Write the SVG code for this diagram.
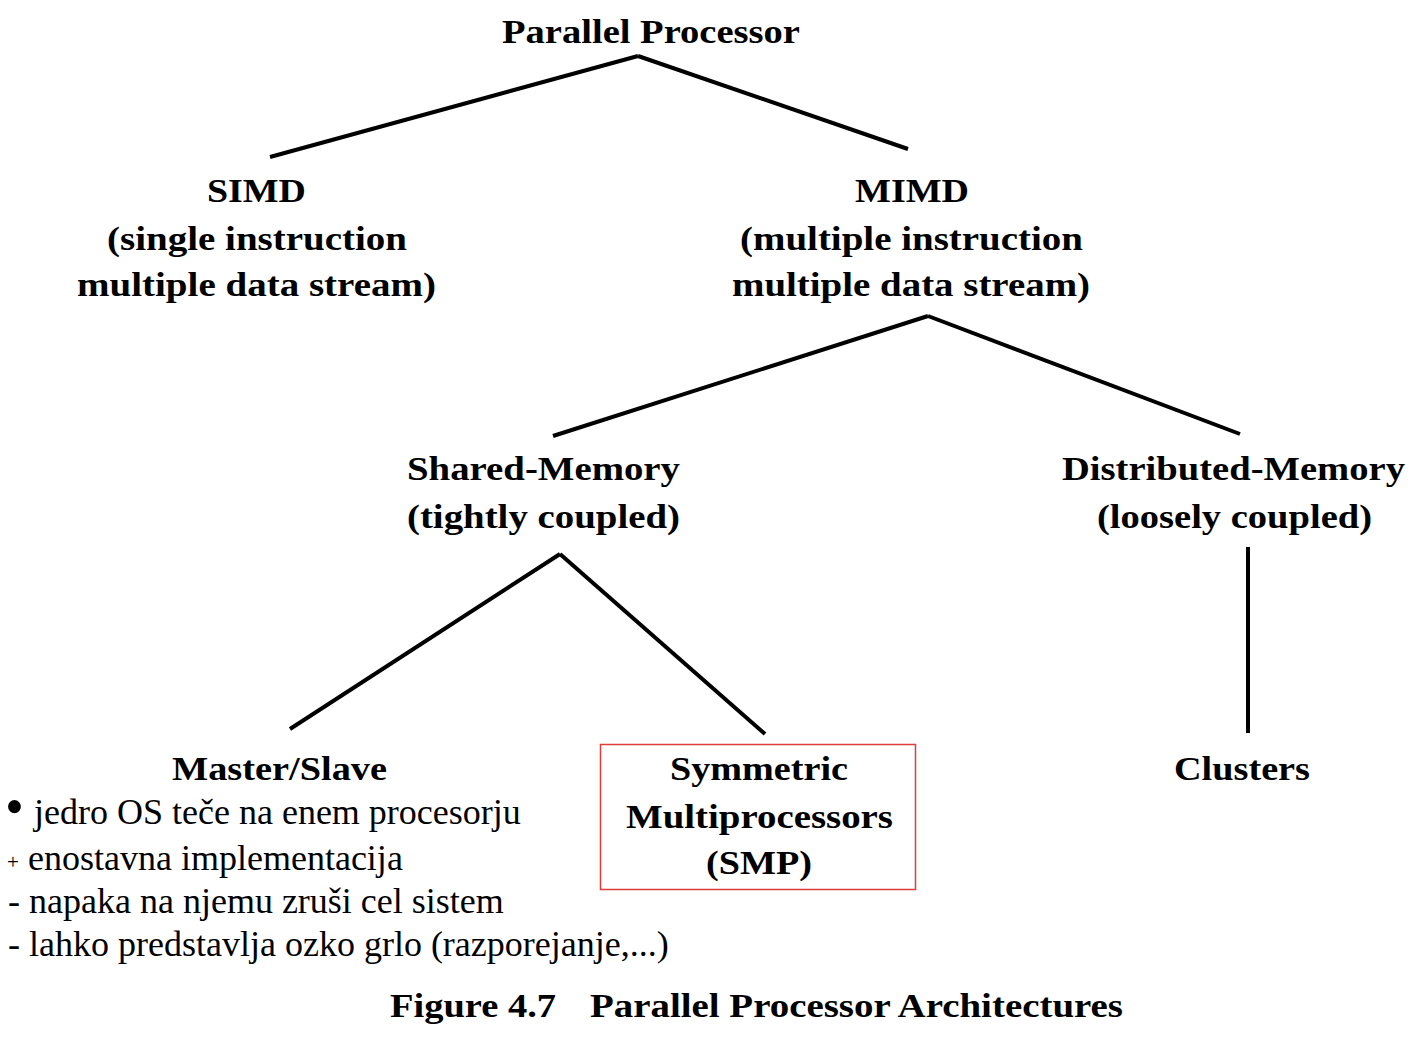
<svg xmlns="http://www.w3.org/2000/svg" width="1420" height="1060" viewBox="0 0 1420 1060">
<style>
.b{font-family:"Liberation Serif","Times New Roman",serif;font-weight:bold;font-size:34px;fill:#000}
.r{font-family:"Liberation Serif","Times New Roman",serif;font-size:36px;fill:#000}
.e{stroke:#000;stroke-width:4;fill:none;stroke-linecap:butt}
</style>
<rect width="1420" height="1060" fill="#fff"/>
<g id="connectors">
<line class="e" x1="270" y1="157" x2="638" y2="56"/>
<line class="e" x1="638" y1="56" x2="908" y2="149"/>
<line class="e" x1="553" y1="436" x2="928" y2="316"/>
<line class="e" x1="928" y1="316" x2="1240" y2="434"/>
<line class="e" x1="290" y1="729" x2="560" y2="554"/>
<line class="e" x1="560" y1="554" x2="765" y2="734"/>
<line class="e" x1="1248" y1="547" x2="1248" y2="733"/>
</g>
<g id="parallel-processor">
<text class="b" x="502" y="43" textLength="298" lengthAdjust="spacingAndGlyphs">Parallel Processor</text>
</g>
<g id="simd">
<text class="b" x="207" y="202" textLength="99" lengthAdjust="spacingAndGlyphs">SIMD</text>
<text class="b" x="107" y="250" textLength="300" lengthAdjust="spacingAndGlyphs">(single instruction</text>
<text class="b" x="77" y="296" textLength="359" lengthAdjust="spacingAndGlyphs">multiple data stream)</text>
</g>
<g id="mimd">
<text class="b" x="855" y="202" textLength="114" lengthAdjust="spacingAndGlyphs">MIMD</text>
<text class="b" x="740" y="250" textLength="343" lengthAdjust="spacingAndGlyphs">(multiple instruction</text>
<text class="b" x="732" y="296" textLength="358" lengthAdjust="spacingAndGlyphs">multiple data stream)</text>
</g>
<g id="shared-memory">
<text class="b" x="407" y="480" textLength="273" lengthAdjust="spacingAndGlyphs">Shared-Memory</text>
<text class="b" x="407" y="528" textLength="273" lengthAdjust="spacingAndGlyphs">(tightly coupled)</text>
</g>
<g id="distributed-memory">
<text class="b" x="1062" y="480" textLength="343" lengthAdjust="spacingAndGlyphs">Distributed-Memory</text>
<text class="b" x="1097" y="528" textLength="275" lengthAdjust="spacingAndGlyphs">(loosely coupled)</text>
</g>
<g id="master-slave">
<text class="b" x="172" y="780" textLength="215" lengthAdjust="spacingAndGlyphs">Master/Slave</text>
</g>
<g id="smp">
<rect x="600.5" y="744.5" width="315" height="145" fill="none" stroke="#e03c3c" stroke-width="1.5"/>
<text class="b" x="670" y="780" textLength="178" lengthAdjust="spacingAndGlyphs">Symmetric</text>
<text class="b" x="626" y="828" textLength="267" lengthAdjust="spacingAndGlyphs">Multiprocessors</text>
<text class="b" x="706" y="874" textLength="106" lengthAdjust="spacingAndGlyphs">(SMP)</text>
</g>
<g id="clusters">
<text class="b" x="1174" y="780" textLength="136" lengthAdjust="spacingAndGlyphs">Clusters</text>
</g>
<g id="notes">
<text class="r" x="5" y="825" style="font-size:54px">•</text>
<text class="r" x="34" y="824">jedro OS teče na enem procesorju</text>
<text class="r" x="7" y="869" style="font-size:21px">+</text>
<text class="r" x="28" y="870">enostavna implementacija</text>
<text class="r" x="8" y="913">- napaka na njemu zruši cel sistem</text>
<text class="r" x="8" y="956">- lahko predstavlja ozko grlo (razporejanje,...)</text>
</g>
<g id="caption">
<text class="b" x="390" y="1017" textLength="166" lengthAdjust="spacingAndGlyphs">Figure 4.7</text>
<text class="b" x="590" y="1017" textLength="533" lengthAdjust="spacingAndGlyphs">Parallel Processor Architectures</text>
</g>
</svg>
